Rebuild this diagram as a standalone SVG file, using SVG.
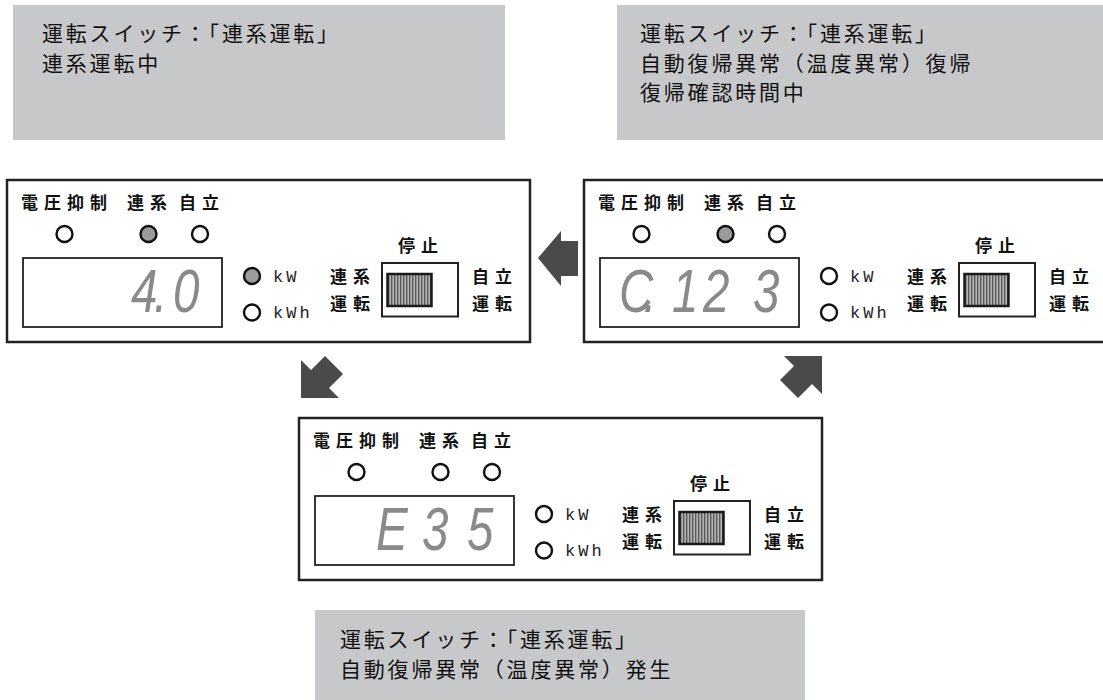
<svg xmlns="http://www.w3.org/2000/svg" width="1103" height="700" viewBox="0 0 1103 700">
<defs>
<style>
.box{fill:#c7c8ca}
.cap{font-family:'Noto Sans CJK JP','Noto Sans CJK SC',sans-serif;font-size:21px;letter-spacing:2.8px;fill:#111}
.panel{fill:#fff;stroke:#222;stroke-width:2.5}
.lbl{font-family:'Noto Sans CJK JP','Noto Sans CJK SC',sans-serif;font-weight:700;font-size:17px;letter-spacing:6px;fill:#111}
.led{fill:#fff;stroke:#111;stroke-width:2.4}
.on{fill:#9b9b9b}
.disp{fill:#fff;stroke:#222;stroke-width:1.8}
.seg{font-family:'Liberation Sans',sans-serif;font-style:italic;font-size:61px;fill:#8a8a8a}
.unit{font-family:'Liberation Mono',monospace;font-size:17px;letter-spacing:3px;fill:#222}
.sw{fill:#fff;stroke:#222;stroke-width:2}
.knob{fill:url(#stripes);stroke:#1a1a1a;stroke-width:2.5}
.arrow{fill:#4a4a4a}
</style>
<pattern id="stripes" patternUnits="userSpaceOnUse" width="3" height="10">
<rect width="3" height="10" fill="#b4b4b4"/>
<rect width="1.4" height="10" fill="#5a5a5a"/>
</pattern>
</defs>

<g id="caption-running">
<rect class="box" x="13" y="5" width="492" height="135"/>
<text class="cap" x="42" y="41">運転スイッチ：「連系運転」</text>
<text class="cap" x="42" y="70.5">連系運転中</text>
</g>

<g id="caption-recovery">
<rect class="box" x="617" y="5" width="486" height="135"/>
<text class="cap" x="640" y="41">運転スイッチ：「連系運転」</text>
<text class="cap" x="640" y="70.5">自動復帰異常（温度異常）復帰</text>
<text class="cap" x="640" y="99.5">復帰確認時間中</text>
</g>

<g id="caption-error">
<rect class="box" x="315" y="610" width="490" height="90"/>
<text class="cap" x="340" y="647">運転スイッチ：「連系運転」</text>
<text class="cap" x="340" y="676.5">自動復帰異常（温度異常）発生</text>
</g>

<g id="panel-running" transform="translate(7,180)">
<rect class="panel" x="0" y="0" width="523" height="162"/>
<text class="lbl" x="14" y="29">電圧抑制</text>
<text class="lbl" x="120" y="29">連系</text>
<text class="lbl" x="172" y="29">自立</text>
<circle class="led" cx="57.5" cy="54" r="8"/>
<circle class="led on" cx="141.5" cy="54" r="8"/>
<circle class="led" cx="193" cy="54" r="8"/>
<text class="lbl" x="391" y="72">停止</text>
<rect class="disp" x="16" y="78" width="199" height="69"/>
<text class="seg" transform="scale(0.78,1)" x="159 188.5 212.8" y="132">4.0</text>
<circle class="led on" cx="245" cy="96" r="8"/>
<circle class="led" cx="245" cy="132.5" r="8"/>
<text class="unit" x="266" y="101.5">kW</text>
<text class="unit" x="266" y="137.5">kWh</text>
<text class="lbl" x="323" y="103">連系</text>
<text class="lbl" x="323" y="130">運転</text>
<rect class="sw" x="375" y="83" width="76" height="53.5"/>
<rect class="knob" x="380.5" y="94" width="44" height="32"/>
<text class="lbl" x="465" y="103">自立</text>
<text class="lbl" x="465" y="130">運転</text>
</g>

<g id="panel-recovery" transform="translate(584,180)">
<rect class="panel" x="0" y="0" width="523" height="162"/>
<text class="lbl" x="14" y="29">電圧抑制</text>
<text class="lbl" x="120" y="29">連系</text>
<text class="lbl" x="172" y="29">自立</text>
<circle class="led" cx="57.5" cy="54" r="8"/>
<circle class="led on" cx="141.5" cy="54" r="8"/>
<circle class="led" cx="193" cy="54" r="8"/>
<text class="lbl" x="391" y="72">停止</text>
<rect class="disp" x="16" y="78" width="199" height="69"/>
<text class="seg" transform="scale(0.78,1)" x="44.9 76 112.8 152.6 216.7" y="132">C.123</text>
<circle class="led" cx="245" cy="96" r="8"/>
<circle class="led" cx="245" cy="132.5" r="8"/>
<text class="unit" x="266" y="101.5">kW</text>
<text class="unit" x="266" y="137.5">kWh</text>
<text class="lbl" x="323" y="103">連系</text>
<text class="lbl" x="323" y="130">運転</text>
<rect class="sw" x="375" y="83" width="76" height="53.5"/>
<rect class="knob" x="380.5" y="94" width="44" height="32"/>
<text class="lbl" x="465" y="103">自立</text>
<text class="lbl" x="465" y="130">運転</text>
</g>

<g id="panel-error" transform="translate(299,418)">
<rect class="panel" x="0" y="0" width="523" height="162"/>
<text class="lbl" x="14" y="29">電圧抑制</text>
<text class="lbl" x="120" y="29">連系</text>
<text class="lbl" x="172" y="29">自立</text>
<circle class="led" cx="57.5" cy="54" r="8"/>
<circle class="led" cx="141.5" cy="54" r="8"/>
<circle class="led" cx="193" cy="54" r="8"/>
<text class="lbl" x="391" y="72">停止</text>
<rect class="disp" x="16" y="78" width="199" height="69"/>
<text class="seg" transform="scale(0.78,1)" x="98.7 157.7 215.4" y="132">E35</text>
<circle class="led" cx="245" cy="96" r="8"/>
<circle class="led" cx="245" cy="132.5" r="8"/>
<text class="unit" x="266" y="101.5">kW</text>
<text class="unit" x="266" y="137.5">kWh</text>
<text class="lbl" x="323" y="103">連系</text>
<text class="lbl" x="323" y="130">運転</text>
<rect class="sw" x="375" y="83" width="76" height="53.5"/>
<rect class="knob" x="380.5" y="94" width="44" height="32"/>
<text class="lbl" x="465" y="103">自立</text>
<text class="lbl" x="465" y="130">運転</text>
</g>

<g id="connectors">
<polygon class="arrow" points="538,258 561,231 561,241 578,241 578,276 561,276 561,286"/>
<polygon class="arrow" points="339,398 301,398 301,360 311,370 325,356 343,374 329,388"/>
<polygon class="arrow" points="784,356 822,356 822,394 812,384 798,398 780,380 794,366"/>
</g>
</svg>
